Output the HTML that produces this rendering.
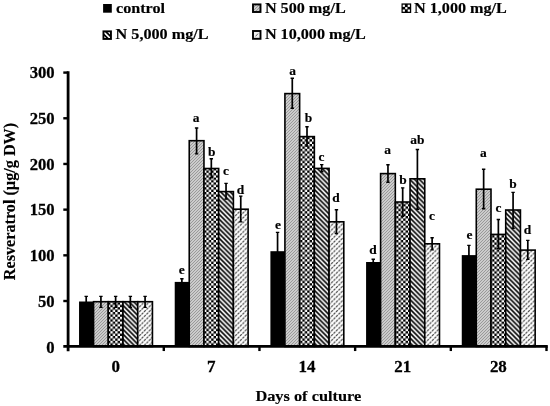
<!DOCTYPE html>
<html><head><meta charset="utf-8"><title>Resveratrol chart</title>
<style>
html,body{margin:0;padding:0;background:#fff;}
body{width:550px;height:406px;overflow:hidden;}
svg{display:block;}
text{font-family:"Liberation Serif","Times New Roman",serif;font-weight:bold;font-size:16px;fill:#000;}
</style></head><body>
<svg width="550" height="406" viewBox="0 0 550 406">
<defs>
<pattern id="p1" width="3" height="3" patternUnits="userSpaceOnUse">
<rect width="3" height="3" fill="#fff"/>
<path d="M-1,1 L1,-1 M-1,2.5 L2.5,-1 M-1,4 L4,-1 M0.5,4 L4,0.5 M2,4 L4,2" stroke="#333" stroke-width="0.5"/>
</pattern>
<pattern id="p2" width="4.8" height="4.8" patternUnits="userSpaceOnUse">
<rect width="4.8" height="4.8" fill="#000"/>
<rect x="0" y="0" width="2.4" height="2.4" fill="#fff"/>
<rect x="2.4" y="2.4" width="2.4" height="2.4" fill="#fff"/>
</pattern>
<pattern id="p3" width="4.8" height="4.8" patternUnits="userSpaceOnUse">
<rect width="4.8" height="4.8" fill="#fff"/>
<path d="M-2.4,-2.4 L7.2,7.2 M-2.4,2.4 L2.4,7.2 M2.4,-2.4 L7.2,2.4" stroke="#000" stroke-width="1.6"/>
</pattern>
<pattern id="p4" width="4.8" height="4.8" patternUnits="userSpaceOnUse">
<rect width="4.8" height="4.8" fill="#fff"/>
<path d="M-2.4,7.2 L7.2,-2.4 M-2.4,2.4 L2.4,-2.4 M2.4,7.2 L7.2,2.4" stroke="#4a4a4a" stroke-width="1.2" stroke-dasharray="2.6 0.8"/>
</pattern>
</defs>
<rect width="550" height="406" fill="#fff"/>

<rect x="79.04" y="301.50" width="14.72" height="44.95" fill="#000"/>
<rect x="93.56" y="301.70" width="14.72" height="44.75" fill="url(#p1)" stroke="#000" stroke-width="1.6"/>
<rect x="108.28" y="301.70" width="14.72" height="44.75" fill="url(#p2)" stroke="#000" stroke-width="1.6"/>
<rect x="123.00" y="301.70" width="14.72" height="44.75" fill="url(#p3)" stroke="#000" stroke-width="1.6"/>
<rect x="137.72" y="301.70" width="14.72" height="44.75" fill="url(#p4)" stroke="#000" stroke-width="1.6"/>
<rect x="174.72" y="281.90" width="14.72" height="64.55" fill="#000"/>
<rect x="189.24" y="140.70" width="14.72" height="205.75" fill="url(#p1)" stroke="#000" stroke-width="1.6"/>
<rect x="203.96" y="168.50" width="14.72" height="177.95" fill="url(#p2)" stroke="#000" stroke-width="1.6"/>
<rect x="218.68" y="191.60" width="14.72" height="154.85" fill="url(#p3)" stroke="#000" stroke-width="1.6"/>
<rect x="233.40" y="209.20" width="14.72" height="137.25" fill="url(#p4)" stroke="#000" stroke-width="1.6"/>
<rect x="270.40" y="251.20" width="14.72" height="95.25" fill="#000"/>
<rect x="284.92" y="93.60" width="14.72" height="252.85" fill="url(#p1)" stroke="#000" stroke-width="1.6"/>
<rect x="299.64" y="136.60" width="14.72" height="209.85" fill="url(#p2)" stroke="#000" stroke-width="1.6"/>
<rect x="314.36" y="168.40" width="14.72" height="178.05" fill="url(#p3)" stroke="#000" stroke-width="1.6"/>
<rect x="329.08" y="221.80" width="14.72" height="124.65" fill="url(#p4)" stroke="#000" stroke-width="1.6"/>
<rect x="366.08" y="262.00" width="14.72" height="84.45" fill="#000"/>
<rect x="380.60" y="173.60" width="14.72" height="172.85" fill="url(#p1)" stroke="#000" stroke-width="1.6"/>
<rect x="395.32" y="202.00" width="14.72" height="144.45" fill="url(#p2)" stroke="#000" stroke-width="1.6"/>
<rect x="410.04" y="178.80" width="14.72" height="167.65" fill="url(#p3)" stroke="#000" stroke-width="1.6"/>
<rect x="424.76" y="243.80" width="14.72" height="102.65" fill="url(#p4)" stroke="#000" stroke-width="1.6"/>
<rect x="461.76" y="255.10" width="14.72" height="91.35" fill="#000"/>
<rect x="476.28" y="189.20" width="14.72" height="157.25" fill="url(#p1)" stroke="#000" stroke-width="1.6"/>
<rect x="491.00" y="234.40" width="14.72" height="112.05" fill="url(#p2)" stroke="#000" stroke-width="1.6"/>
<rect x="505.72" y="210.00" width="14.72" height="136.45" fill="url(#p3)" stroke="#000" stroke-width="1.6"/>
<rect x="520.44" y="250.10" width="14.72" height="96.35" fill="url(#p4)" stroke="#000" stroke-width="1.6"/>
<path d="M86.20,296.30 V307.50" stroke="#000" stroke-width="1.7" fill="none"/><path d="M84.50,296.40 H87.90 M84.50,307.40 H87.90" stroke="#000" stroke-width="1.4" fill="none"/>
<path d="M100.92,296.30 V307.50" stroke="#000" stroke-width="1.7" fill="none"/><path d="M99.22,296.40 H102.62 M99.22,307.40 H102.62" stroke="#000" stroke-width="1.4" fill="none"/>
<path d="M115.64,296.30 V307.50" stroke="#000" stroke-width="1.7" fill="none"/><path d="M113.94,296.40 H117.34 M113.94,307.40 H117.34" stroke="#000" stroke-width="1.4" fill="none"/>
<path d="M130.36,296.30 V307.50" stroke="#000" stroke-width="1.7" fill="none"/><path d="M128.66,296.40 H132.06 M128.66,307.40 H132.06" stroke="#000" stroke-width="1.4" fill="none"/>
<path d="M145.08,296.30 V307.50" stroke="#000" stroke-width="1.7" fill="none"/><path d="M143.38,296.40 H146.78 M143.38,307.40 H146.78" stroke="#000" stroke-width="1.4" fill="none"/>
<path d="M181.88,278.60 V285.20" stroke="#000" stroke-width="1.7" fill="none"/><path d="M180.18,278.70 H183.58 M180.18,285.10 H183.58" stroke="#000" stroke-width="1.4" fill="none"/>
<path d="M196.60,127.90 V154.00" stroke="#000" stroke-width="1.7" fill="none"/><path d="M194.90,128.00 H198.30 M194.90,153.90 H198.30" stroke="#000" stroke-width="1.4" fill="none"/>
<path d="M211.32,158.60 V177.80" stroke="#000" stroke-width="1.7" fill="none"/><path d="M209.62,158.70 H213.02 M209.62,177.70 H213.02" stroke="#000" stroke-width="1.4" fill="none"/>
<path d="M226.04,183.30 V199.20" stroke="#000" stroke-width="1.7" fill="none"/><path d="M224.34,183.40 H227.74 M224.34,199.10 H227.74" stroke="#000" stroke-width="1.4" fill="none"/>
<path d="M240.76,196.00 V222.00" stroke="#000" stroke-width="1.7" fill="none"/><path d="M239.06,196.10 H242.46 M239.06,221.90 H242.46" stroke="#000" stroke-width="1.4" fill="none"/>
<path d="M277.56,232.30 V270.00" stroke="#000" stroke-width="1.7" fill="none"/><path d="M275.86,232.40 H279.26 M275.86,269.90 H279.26" stroke="#000" stroke-width="1.4" fill="none"/>
<path d="M292.28,78.10 V108.40" stroke="#000" stroke-width="1.7" fill="none"/><path d="M290.58,78.20 H293.98 M290.58,108.30 H293.98" stroke="#000" stroke-width="1.4" fill="none"/>
<path d="M307.00,126.60 V146.20" stroke="#000" stroke-width="1.7" fill="none"/><path d="M305.30,126.70 H308.70 M305.30,146.10 H308.70" stroke="#000" stroke-width="1.4" fill="none"/>
<path d="M321.72,164.50 V171.90" stroke="#000" stroke-width="1.7" fill="none"/><path d="M320.02,164.60 H323.42 M320.02,171.80 H323.42" stroke="#000" stroke-width="1.4" fill="none"/>
<path d="M336.44,209.60 V233.60" stroke="#000" stroke-width="1.7" fill="none"/><path d="M334.74,209.70 H338.14 M334.74,233.50 H338.14" stroke="#000" stroke-width="1.4" fill="none"/>
<path d="M373.24,259.20 V264.80" stroke="#000" stroke-width="1.7" fill="none"/><path d="M371.54,259.30 H374.94 M371.54,264.70 H374.94" stroke="#000" stroke-width="1.4" fill="none"/>
<path d="M387.96,164.70 V182.30" stroke="#000" stroke-width="1.7" fill="none"/><path d="M386.26,164.80 H389.66 M386.26,182.20 H389.66" stroke="#000" stroke-width="1.4" fill="none"/>
<path d="M402.68,187.80 V216.30" stroke="#000" stroke-width="1.7" fill="none"/><path d="M400.98,187.90 H404.38 M400.98,216.20 H404.38" stroke="#000" stroke-width="1.4" fill="none"/>
<path d="M417.40,149.40 V209.40" stroke="#000" stroke-width="1.7" fill="none"/><path d="M415.70,149.50 H419.10 M415.70,209.30 H419.10" stroke="#000" stroke-width="1.4" fill="none"/>
<path d="M432.12,237.60 V250.00" stroke="#000" stroke-width="1.7" fill="none"/><path d="M430.42,237.70 H433.82 M430.42,249.90 H433.82" stroke="#000" stroke-width="1.4" fill="none"/>
<path d="M468.92,245.30 V264.90" stroke="#000" stroke-width="1.7" fill="none"/><path d="M467.22,245.40 H470.62 M467.22,264.80 H470.62" stroke="#000" stroke-width="1.4" fill="none"/>
<path d="M483.64,169.20 V208.80" stroke="#000" stroke-width="1.7" fill="none"/><path d="M481.94,169.30 H485.34 M481.94,208.70 H485.34" stroke="#000" stroke-width="1.4" fill="none"/>
<path d="M498.36,219.40 V248.80" stroke="#000" stroke-width="1.7" fill="none"/><path d="M496.66,219.50 H500.06 M496.66,248.70 H500.06" stroke="#000" stroke-width="1.4" fill="none"/>
<path d="M513.08,192.30 V228.50" stroke="#000" stroke-width="1.7" fill="none"/><path d="M511.38,192.40 H514.78 M511.38,228.40 H514.78" stroke="#000" stroke-width="1.4" fill="none"/>
<path d="M527.80,240.30 V259.50" stroke="#000" stroke-width="1.7" fill="none"/><path d="M526.10,240.40 H529.50 M526.10,259.40 H529.50" stroke="#000" stroke-width="1.4" fill="none"/>
<path d="M68.1,71.29 V351.25" stroke="#000" stroke-width="2.8" fill="none"/>
<path d="M63.30,346.45 H547.80" stroke="#000" stroke-width="2.8" fill="none"/>
<text transform="translate(54.6,352.5) scale(1.04,1)" text-anchor="end" style="font-size:16px;stroke:#000;stroke-width:0.25px;">0</text>
<path d="M63.30,301.01 H68.1" stroke="#000" stroke-width="2.4"/>
<text transform="translate(54.6,306.81) scale(1.04,1)" text-anchor="end" style="font-size:16px;stroke:#000;stroke-width:0.25px;">50</text>
<path d="M63.30,255.33 H68.1" stroke="#000" stroke-width="2.4"/>
<text transform="translate(54.6,261.13) scale(1.04,1)" text-anchor="end" style="font-size:16px;stroke:#000;stroke-width:0.25px;">100</text>
<path d="M63.30,209.64 H68.1" stroke="#000" stroke-width="2.4"/>
<text transform="translate(54.6,215.44) scale(1.04,1)" text-anchor="end" style="font-size:16px;stroke:#000;stroke-width:0.25px;">150</text>
<path d="M63.30,163.96 H68.1" stroke="#000" stroke-width="2.4"/>
<text transform="translate(54.6,169.76) scale(1.04,1)" text-anchor="end" style="font-size:16px;stroke:#000;stroke-width:0.25px;">200</text>
<path d="M63.30,118.28 H68.1" stroke="#000" stroke-width="2.4"/>
<text transform="translate(54.6,124.08) scale(1.04,1)" text-anchor="end" style="font-size:16px;stroke:#000;stroke-width:0.25px;">250</text>
<path d="M63.30,72.59 H68.1" stroke="#000" stroke-width="2.4"/>
<text transform="translate(54.6,78.39) scale(1.04,1)" text-anchor="end" style="font-size:16px;stroke:#000;stroke-width:0.25px;">300</text>
<path d="M163.78,346.45 V351.05" stroke="#000" stroke-width="2.4"/>
<path d="M259.46,346.45 V351.05" stroke="#000" stroke-width="2.4"/>
<path d="M355.14,346.45 V351.05" stroke="#000" stroke-width="2.4"/>
<path d="M450.82,346.45 V351.05" stroke="#000" stroke-width="2.4"/>
<path d="M546.50,346.45 V351.05" stroke="#000" stroke-width="2.4"/>
<text transform="translate(115.64,371.6) scale(1.06,1)" text-anchor="middle" style="font-size:16px;stroke:#000;stroke-width:0.25px;">0</text>
<text transform="translate(211.32,371.6) scale(1.06,1)" text-anchor="middle" style="font-size:16px;stroke:#000;stroke-width:0.25px;">7</text>
<text transform="translate(307.0,371.6) scale(1.06,1)" text-anchor="middle" style="font-size:16px;stroke:#000;stroke-width:0.25px;">14</text>
<text transform="translate(402.68,371.6) scale(1.06,1)" text-anchor="middle" style="font-size:16px;stroke:#000;stroke-width:0.25px;">21</text>
<text transform="translate(498.36,371.6) scale(1.06,1)" text-anchor="middle" style="font-size:16px;stroke:#000;stroke-width:0.25px;">28</text>
<text transform="translate(181.7,273.6) scale(1.12,1)" text-anchor="middle" style="font-size:12px;stroke:#000;stroke-width:0.15px;">e</text>
<text transform="translate(196.0,121.8) scale(1.12,1)" text-anchor="middle" style="font-size:12px;stroke:#000;stroke-width:0.15px;">a</text>
<text transform="translate(211.7,155.8) scale(1.12,1)" text-anchor="middle" style="font-size:12px;stroke:#000;stroke-width:0.15px;">b</text>
<text transform="translate(226.0,174.6) scale(1.12,1)" text-anchor="middle" style="font-size:12px;stroke:#000;stroke-width:0.15px;">c</text>
<text transform="translate(240.4,193.8) scale(1.12,1)" text-anchor="middle" style="font-size:12px;stroke:#000;stroke-width:0.15px;">d</text>
<text transform="translate(278.1,229.1) scale(1.12,1)" text-anchor="middle" style="font-size:12px;stroke:#000;stroke-width:0.15px;">e</text>
<text transform="translate(292.6,75.3) scale(1.12,1)" text-anchor="middle" style="font-size:12px;stroke:#000;stroke-width:0.15px;">a</text>
<text transform="translate(308.4,121.5) scale(1.12,1)" text-anchor="middle" style="font-size:12px;stroke:#000;stroke-width:0.15px;">b</text>
<text transform="translate(321.6,161.0) scale(1.12,1)" text-anchor="middle" style="font-size:12px;stroke:#000;stroke-width:0.15px;">c</text>
<text transform="translate(335.9,202.2) scale(1.12,1)" text-anchor="middle" style="font-size:12px;stroke:#000;stroke-width:0.15px;">d</text>
<text transform="translate(372.9,254.2) scale(1.12,1)" text-anchor="middle" style="font-size:12px;stroke:#000;stroke-width:0.15px;">d</text>
<text transform="translate(387.6,153.6) scale(1.12,1)" text-anchor="middle" style="font-size:12px;stroke:#000;stroke-width:0.15px;">a</text>
<text transform="translate(402.9,184.3) scale(1.12,1)" text-anchor="middle" style="font-size:12px;stroke:#000;stroke-width:0.15px;">b</text>
<text transform="translate(417.4,143.5) scale(1.12,1)" text-anchor="middle" style="font-size:12px;stroke:#000;stroke-width:0.15px;">ab</text>
<text transform="translate(431.9,220.3) scale(1.12,1)" text-anchor="middle" style="font-size:12px;stroke:#000;stroke-width:0.15px;">c</text>
<text transform="translate(469.4,239.0) scale(1.12,1)" text-anchor="middle" style="font-size:12px;stroke:#000;stroke-width:0.15px;">e</text>
<text transform="translate(483.3,157.2) scale(1.12,1)" text-anchor="middle" style="font-size:12px;stroke:#000;stroke-width:0.15px;">a</text>
<text transform="translate(498.4,212.2) scale(1.12,1)" text-anchor="middle" style="font-size:12px;stroke:#000;stroke-width:0.15px;">c</text>
<text transform="translate(513.1,188.0) scale(1.12,1)" text-anchor="middle" style="font-size:12px;stroke:#000;stroke-width:0.15px;">b</text>
<text transform="translate(527.4,234.3) scale(1.12,1)" text-anchor="middle" style="font-size:12px;stroke:#000;stroke-width:0.15px;">d</text>
<text transform="translate(308.3,401.2) scale(1.09,1)" text-anchor="middle" style="font-size:15px;stroke:#000;stroke-width:0.15px;">Days of culture</text>
<text transform="translate(15.3,201.5) rotate(-90)" text-anchor="middle" style="font-size:16.2px;stroke:#000;stroke-width:0.15px;">Resveratrol (µg/g DW)</text>
<defs><clipPath id="c3"><rect x="103.6" y="31.6" width="6.7" height="6.9"/></clipPath></defs>
<rect x="103.1" y="4.0" width="8.7" height="8.7" fill="#000"/>
<text transform="translate(116.0,13.2) scale(1.155,1)" text-anchor="start" style="font-size:14px;stroke:#000;stroke-width:0.15px;">control</text>
<rect x="253.0" y="4.4" width="7.5" height="7.6" fill="url(#p1)" stroke="#000" stroke-width="1.9"/>
<text transform="translate(264.9,13.2) scale(1.155,1)" text-anchor="start" style="font-size:14px;stroke:#000;stroke-width:0.15px;">N 500 mg/L</text>
<rect x="401.5" y="3.4" width="9.7" height="9.6" fill="#000"/>
<rect x="405.20" y="7.10" width="2.2" height="2.2" fill="#fff"/>
<rect x="402.70" y="4.70" width="2.2" height="2.2" fill="#fff"/>
<rect x="407.70" y="4.70" width="2.2" height="2.2" fill="#fff"/>
<rect x="402.70" y="9.50" width="2.2" height="2.2" fill="#fff"/>
<rect x="407.70" y="9.50" width="2.2" height="2.2" fill="#fff"/>
<text transform="translate(414.0,13.2) scale(1.155,1)" text-anchor="start" style="font-size:14px;stroke:#000;stroke-width:0.15px;">N 1,000 mg/L</text>
<rect x="103.45" y="31.35" width="7.5" height="7.6" fill="#fff" stroke="#000" stroke-width="1.9"/>
<path clip-path="url(#c3)" d="M100.8,31.4 L110.8,41.4 M103.6,29.4 L113.6,39.4" stroke="#000" stroke-width="1.7" fill="none"/>
<text transform="translate(115.6,39.3) scale(1.155,1)" text-anchor="start" style="font-size:14px;stroke:#000;stroke-width:0.15px;">N 5,000 mg/L</text>
<rect x="253.0" y="31.0" width="7.5" height="7.8" fill="#f0f0f0" stroke="#000" stroke-width="1.9"/>
<path d="M255.5,36.4 L258.0,33.6" stroke="#666" stroke-width="1.0" fill="none"/>
<text transform="translate(264.9,39.3) scale(1.155,1)" text-anchor="start" style="font-size:14px;stroke:#000;stroke-width:0.15px;">N 10,000 mg/L</text>
</svg></body></html>
